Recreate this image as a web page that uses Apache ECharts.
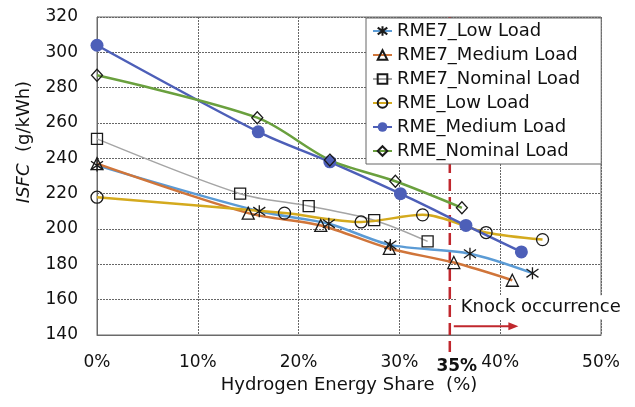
<!DOCTYPE html>
<html>
<head>
<meta charset="utf-8">
<script src="https://cdn.jsdelivr.net/npm/echarts@6/dist/echarts.min.js"></script>
<style>
  html, body { margin: 0; padding: 0; background: #fff; }
  #chart { width: 635px; height: 407px; }
</style>
</head>
<body>
<div id="chart"></div>
<script>
// Hydrogen energy share (%) and ISFC (g/kWh) for each fuel / load case
const rme7LowShare      = [0, 16.1, 23.0, 29.1, 37.0, 43.2];
const rme7LowIsfc       = [236, 210, 203, 191, 186, 175];
const rme7MediumShare   = [0, 15.0, 22.2, 29.0, 35.4, 41.2];
const rme7MediumIsfc    = [237, 209, 202, 189, 181, 171];
const rme7NominalShare  = [0, 14.2, 21.0, 27.5, 32.8];
const rme7NominalIsfc   = [251, 220, 213, 205, 193];
const rmeLowShare       = [0, 18.6, 26.2, 32.3, 38.6, 44.2];
const rmeLowIsfc        = [218, 209, 204, 208, 198, 194];
const rmeMediumShare    = [0, 16.0, 23.1, 30.1, 36.6, 42.1];
const rmeMediumIsfc     = [304, 255, 238, 220, 202, 187];
const rmeNominalShare   = [0, 15.9, 23.1, 29.6, 36.2];
const rmeNominalIsfc    = [287, 263, 239, 227, 212];

const seriesNames = [
  'RME7_Low Load', 'RME7_Medium Load', 'RME7_Nominal Load',
  'RME_Low Load', 'RME_Medium Load', 'RME_Nominal Load'
];

// Knock onset threshold and arrow extent (hydrogen share, %)
const knockShare = 35;
const knockArrowEnd = 41.8;
const knockLabel = 'Knock occurrence';

const FONT = 'DejaVu Sans';
const zip = (xs, ys) => xs.map((x, i) => [x, ys[i]]);

const asterisk = 'path://M6,0L6,12M1.8,1.8L10.2,10.2M1.8,10.2L10.2,1.8';

function lineSeries(name, data, color, width, symbol, size, filled) {
  return {
    name, type: 'line', data,
    smooth: 0.3,
    symbol, symbolSize: size,
    showSymbol: true,
    lineStyle: { color, width },
    itemStyle: filled
      ? { color, borderColor: color, borderWidth: 0 }
      : { color: 'rgba(255,255,255,0)', borderColor: '#1a1a1a', borderWidth: 1.3 },
    emphasis: { disabled: true },
    animation: false
  };
}

const chart = echarts.init(document.getElementById('chart'), null, { renderer: 'canvas' });

chart.setOption({
  animation: false,
  backgroundColor: '#fff',
  textStyle: { fontFamily: FONT },
  grid: { left: 97, right: 34, top: 17, bottom: 72, show: true, borderColor: '#6a6a6a', borderWidth: 1, z: 0 },
  legend: {
    orient: 'vertical', left: 366, top: 18, z: 10,
    padding: [3, 21, 3, 6],
    backgroundColor: '#fff', borderColor: '#666', borderWidth: 1,
    itemWidth: 19, itemHeight: 12, itemGap: 4,
    textStyle: { fontFamily: FONT, fontSize: 18, color: '#111', lineHeight: 20 },
    data: seriesNames
  },
  xAxis: {
    type: 'value', min: 0, max: 50, interval: 10,
    axisLine: { show: true, lineStyle: { color: '#6a6a6a' } },
    axisTick: { show: false },
    axisLabel: { formatter: '{value}%', fontFamily: FONT, fontSize: 17, color: '#111', margin: 19 },
    splitLine: { show: true, lineStyle: { color: '#666', type: [2, 1], width: 1 } },
    name: 'Hydrogen Energy Share  (%)',
    nameLocation: 'middle', nameGap: 39,
    nameTextStyle: { fontFamily: FONT, fontSize: 18, color: '#111' }
  },
  yAxis: {
    type: 'value', min: 140, max: 320, interval: 20,
    axisLine: { show: true, lineStyle: { color: '#6a6a6a' } },
    axisTick: { show: false },
    axisLabel: { fontFamily: FONT, fontSize: 17, color: '#111', margin: 19 },
    splitLine: { show: true, lineStyle: { color: '#666', type: [2, 1], width: 1 } }
  },
  series: [
    lineSeries(seriesNames[0], zip(rme7LowShare, rme7LowIsfc), '#5b9bd5', 2.5, asterisk, 12, false),
    lineSeries(seriesNames[1], zip(rme7MediumShare, rme7MediumIsfc), '#d0753a', 2.5, 'triangle', 12, false),
    lineSeries(seriesNames[2], zip(rme7NominalShare, rme7NominalIsfc), '#a5a5a5', 1.5, 'rect', 11, false),
    lineSeries(seriesNames[3], zip(rmeLowShare, rmeLowIsfc), '#d4aa1e', 2.5, 'circle', 12, false),
    lineSeries(seriesNames[4], zip(rmeMediumShare, rmeMediumIsfc), '#4d5fb8', 2.5, 'circle', 13, true),
    lineSeries(seriesNames[5], zip(rmeNominalShare, rmeNominalIsfc), '#6aa03e', 2.5, 'diamond', [11, 12], false)
  ]
});

// Knock threshold marker, arrow and annotation placed from axis coordinates
const knockTop = chart.convertToPixel({ gridIndex: 0 }, [knockShare, 320]);
const knockBottom = chart.convertToPixel({ gridIndex: 0 }, [knockShare, 140]);
const arrowStart = chart.convertToPixel({ gridIndex: 0 }, [knockShare, 145]);
const arrowEnd = chart.convertToPixel({ gridIndex: 0 }, [knockArrowEnd, 145]);
const RED = '#c0272d';

chart.setOption({
  graphic: [
    {
      type: 'line', z: 3, silent: true,
      shape: { x1: knockTop[0], y1: knockTop[1], x2: knockBottom[0], y2: knockBottom[1] + 17 },
      style: { stroke: RED, lineWidth: 2.5, lineDash: [12, 6] }
    },
    {
      type: 'line', z: 3, silent: true,
      shape: { x1: arrowStart[0] + 4, y1: arrowStart[1], x2: arrowEnd[0] - 6, y2: arrowEnd[1] },
      style: { stroke: RED, lineWidth: 2 }
    },
    {
      type: 'polygon', z: 3, silent: true,
      shape: { points: [[arrowEnd[0], arrowEnd[1]], [arrowEnd[0] - 10, arrowEnd[1] - 4], [arrowEnd[0] - 10, arrowEnd[1] + 4]] },
      style: { fill: RED }
    },
    {
      type: 'text', z: 4, silent: true,
      x: knockTop[0] + 7, y: arrowStart[1] - 19,
      style: {
        text: knockLabel, fontFamily: FONT, fontSize: 18, fill: '#111',
        backgroundColor: '#fff', padding: [3, 2, 3, 4],
        align: 'left', verticalAlign: 'middle'
      }
    },
    {
      type: 'text', z: 4, silent: true,
      x: knockBottom[0] + 7, y: knockBottom[1] + 32,
      style: {
        text: knockShare + '%', fontFamily: FONT, fontSize: 17, fontWeight: 'bold', fill: '#111',
        align: 'center', verticalAlign: 'middle'
      }
    },
    {
      type: 'text', z: 4, silent: true,
      x: 24, y: 142, rotation: Math.PI / 2,
      style: {
        text: '{i|ISFC}  (g/kWh)',
        rich: { i: { fontStyle: 'italic', fontFamily: FONT, fontSize: 18, fill: '#111' } },
        fontFamily: FONT, fontSize: 18, fill: '#111',
        align: 'center', verticalAlign: 'middle'
      }
    }
  ]
});
</script>
</body>
</html>
